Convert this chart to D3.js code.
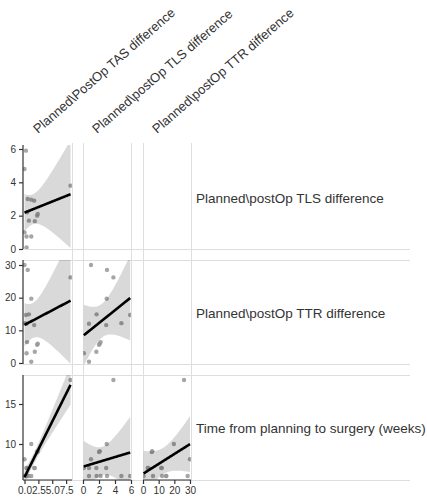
<!DOCTYPE html>
<html><head><meta charset="utf-8">
<script src="https://cdn.jsdelivr.net/npm/d3@7"></script>
<style>body{margin:0;background:#fff}svg{display:block}</style>
</head><body><svg id="c" width="427" height="500"></svg>
<script>
// ---- data (one value per subject) ----
const colLabels = ["Planned\\PostOp TAS difference", "Planned\\postOp TLS difference", "Planned\\postOp TTR difference"];
const rowLabels = ["Planned\\postOp TLS difference", "Planned\\postOp TTR difference", "Time from planning to surgery (weeks)"];
const tasDiff = [0, 0.58, 8.3, 1.22, 0.26, 0.79, 0.37, 1.75, 0, 0.47, 2.39, 2.28, 0.37, 1.86, 1.22];
const tlsDiff = [1.0, 3.0, 3.8, 2.96, 5.9, 1.7, 0.75, 2.9, 4.8, 2.2, 2.1, 2.0, 0.1, 1.67, 0.75];
const ttrDiff = [30, 28.5, 26.2, 19.7, 14.7, 14.9, 12.0, 11.6, 12.2, 6.4, 5.9, 5.6, 3.0, 3.45, 0.4];
const weeks   = [8.1, 6, 18, 10, 6, 6, 7, 7, 6, 6, 9.1, 9, 7, 7, 6];
const xTickVals = [[0, 2.5, 5, 7.5], [0, 2, 4, 6], [0, 10, 20, 30]];
const yTickVals = [[0, 2, 4, 6], [0, 10, 20, 30], [10, 15]];

const xVars = [tasDiff, tlsDiff, ttrDiff];
const yVars = [tlsDiff, ttrDiff, weeks];

const svg = d3.select("#c");
const font = "'Liberation Sans', Arial, sans-serif";

// panel geometry
const cols = [{l:23, r:72}, {l:83, r:131}, {l:143, r:191}];
const rows = [{t:145, b:249}, {t:260, b:364}, {t:375, b:480}];
const xScales = [
  d3.scaleLinear().domain([-0.27, 8.56]).range([23, 72]),
  d3.scaleLinear().domain([0, 6]).range([83, 131]),
  d3.scaleLinear().domain([0, 30]).range([143, 190])
];
const yScales = [
  d3.scaleLinear().domain([0, 6]).range([249, 149]),
  d3.scaleLinear().domain([0, 30]).range([363, 265]),
  d3.scaleLinear().domain([6, 18]).range([476, 380])
];

// light separator lines
const grid = svg.append("g").attr("stroke", "#dedede").attr("stroke-width", 1);
[72, 83, 131, 143, 191].forEach(x => grid.append("line").attr("x1", x + 0.5).attr("x2", x + 0.5).attr("y1", 143).attr("y2", 480));
[249, 260, 364, 375, 480].forEach(y => grid.append("line").attr("x1", 23).attr("x2", 410).attr("y1", y + 0.5).attr("y2", y + 0.5));

const defs = svg.append("defs");

function fit(xs, ys) {
  const n = xs.length;
  const xm = d3.mean(xs), ym = d3.mean(ys);
  let sxx = 0, sxy = 0;
  for (let i = 0; i < n; i++) { sxx += (xs[i]-xm)**2; sxy += (xs[i]-xm)*(ys[i]-ym); }
  const b = sxy / sxx, a = ym - b * xm;
  let sse = 0;
  for (let i = 0; i < n; i++) sse += (ys[i] - a - b*xs[i])**2;
  const s = Math.sqrt(sse / (n - 2));
  const t = 2.160; // t(0.975, 13)
  const [lo, hi] = d3.extent(xs);
  const g = d3.range(0, 101).map(k => lo + (hi - lo) * k / 100);
  return g.map(x => {
    const yh = a + b * x;
    const se = s * Math.sqrt(1/n + (x-xm)**2 / sxx);
    return {x, y: yh, y0: yh - t*se, y1: yh + t*se};
  });
}

for (let r = 0; r < 3; r++) {
  for (let c = 0; c <= r; c++) {
    const xs = xVars[c], ys = yVars[r];
    const xS = xScales[c], yS = yScales[r];
    const id = `clip${r}${c}`;
    defs.append("clipPath").attr("id", id).append("rect")
      .attr("x", cols[c].l).attr("y", rows[r].t)
      .attr("width", cols[c].r - cols[c].l).attr("height", rows[r].b - rows[r].t);
    const g = svg.append("g").attr("clip-path", `url(#${id})`);
    g.selectAll("circle").data(xs.map((x, i) => [x, ys[i]])).join("circle")
      .attr("cx", d => xS(d[0])).attr("cy", d => yS(d[1])).attr("r", 2.2)
      .attr("fill", "#969696").attr("fill-opacity", 0.85);
    const f = fit(xs, ys);
    g.append("path").datum(f)
      .attr("d", d3.area().x(d => xS(d.x)).y0(d => yS(d.y0)).y1(d => yS(d.y1)))
      .attr("fill", "#000").attr("fill-opacity", 0.15);
    g.append("path").datum(f)
      .attr("d", d3.line().x(d => xS(d.x)).y(d => yS(d.y)))
      .attr("fill", "none").attr("stroke", "#000").attr("stroke-width", 2.6);
  }
}

// y axes (left column)
for (let r = 0; r < 3; r++) {
  const g = svg.append("g").attr("transform", "translate(23,0)")
    .call(d3.axisLeft(yScales[r]).tickValues(yTickVals[r]).tickSize(4).tickPadding(3).tickFormat(d3.format("d")));
  g.select(".domain").attr("d", `M0,${rows[r].t}V${rows[r].b}`);
  g.selectAll(".domain, .tick line").attr("stroke", "#333").attr("stroke-width", 1.2);
  g.selectAll("text").attr("font-family", font).attr("font-size", 10).attr("fill", "#333");
}
// x axes (bottom row)
const xFormats = [d3.format(".1f"), d3.format("d"), d3.format("d")];
for (let c = 0; c < 3; c++) {
  const g = svg.append("g").attr("transform", "translate(0,480)")
    .call(d3.axisBottom(xScales[c]).tickValues(xTickVals[c]).tickSize(4).tickPadding(3).tickFormat(xFormats[c]));
  g.select(".domain").attr("d", `M${cols[c].l},0H${cols[c].r}`);
  g.selectAll(".domain, .tick line").attr("stroke", "#333").attr("stroke-width", 1.2);
  g.selectAll("text").attr("font-family", font).attr("font-size", 10).attr("fill", "#333");
}

// column headers (rotated)
const hx = [38, 97, 157];
colLabels.forEach((t, i) => {
  svg.append("text").attr("transform", `translate(${hx[i]},134) rotate(-41)`)
    .attr("font-family", font).attr("font-size", 13).attr("fill", "#333").text(t);
});
// row labels
rowLabels.forEach((t, i) => {
  svg.append("text").attr("x", 196).attr("y", (rows[i].t + rows[i].b) / 2 + 2)
    .attr("dominant-baseline", "middle")
    .attr("font-family", font).attr("font-size", 13.5).attr("fill", "#333").text(t);
});
</script></body></html>
